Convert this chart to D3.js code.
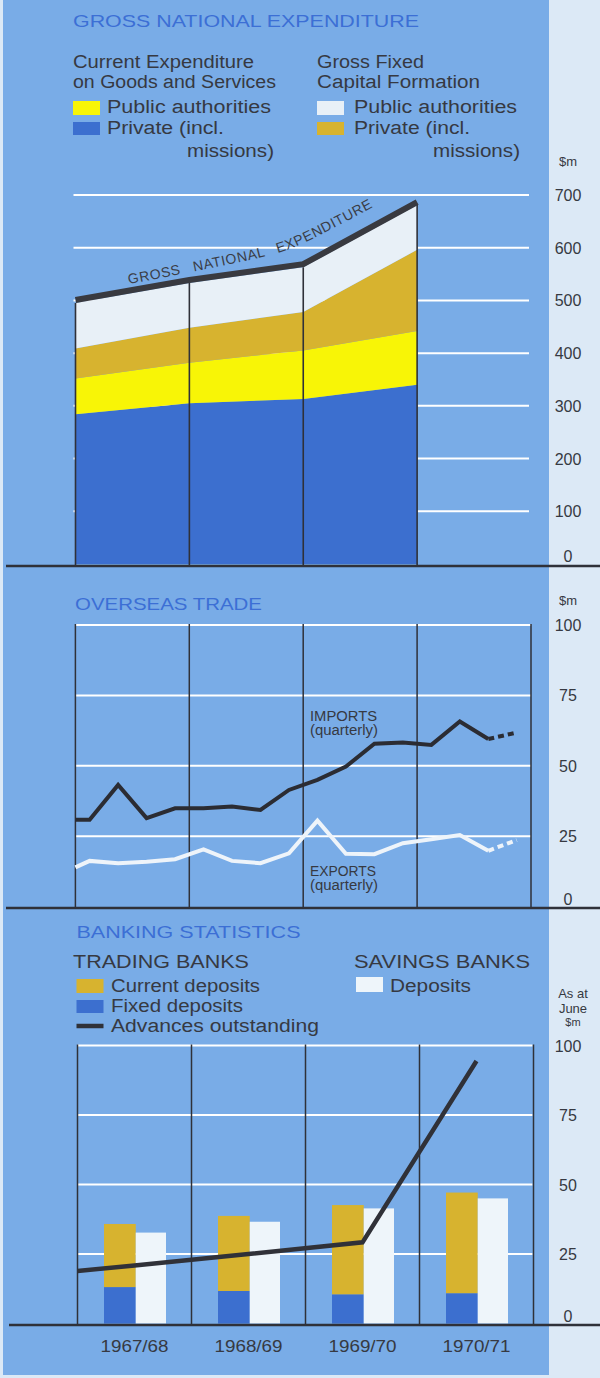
<!DOCTYPE html>
<html><head><meta charset="utf-8">
<script src="https://cdn.jsdelivr.net/npm/d3@7"></script>
<style>
body{margin:0;background:#dce9f6;}
svg text{font-family:"Liberation Sans",Arial,Helvetica,sans-serif;}
</style>
</head><body>
<svg id="c" width="600" height="1378"></svg>
<script>
// ---------------- DATA ----------------
// Gross National Expenditure ($m), plotted at year boundaries
const gnePoints = ["1966/67", "1967/68", "1968/69", "1969/70"];
const gnePrivateCurrent = [284, 305, 313, 340];
const gnePublicCurrent  = [68, 77, 92, 102];
const gnePrivateCapital = [57, 66, 73, 154];
const gnePublicCapital  = [86, 85, 85, 85];
const gneTicks = [0, 100, 200, 300, 400, 500, 600, 700];

// Overseas trade ($m, quarterly)
const quarters = ["Sep 67","Dec 67","Mar 68","Jun 68","Sep 68","Dec 68","Mar 69","Jun 69",
                  "Sep 69","Dec 69","Mar 70","Jun 70","Sep 70","Dec 70","Mar 71","Jun 71"];
const importsStart = 30.8;
const imports = [30.8, 43.2, 31.4, 34.9, 34.9, 35.5, 34.3, 41.4, 45.0, 49.7, 57.8, 58.3, 57.4, 65.7, 59.5, 61.8];
const exportsStart = 13.9;
const exports = [16.2, 15.4, 15.9, 16.8, 20.3, 16.2, 15.4, 18.9, 30.5, 18.7, 18.6, 22.5, 23.9, 25.4, 19.8, 23.6];
const tradeTicks = [0, 25, 50, 75, 100];

// Banking statistics ($m, as at June)
const years = ["1967/68", "1968/69", "1969/70", "1970/71"];
const currentDeposits = [22.7, 27.0, 32.1, 36.2];
const fixedDeposits   = [13.1, 11.7, 10.5, 10.9];
const savingsDeposits = [32.7, 36.6, 41.4, 45.0];
const advancesStart = 18.9;
const advances = [20.9, 25.0, 29.2, 94.4];
const bankTicks = [0, 25, 50, 75, 100];

// ---------------- STYLE ----------------
const C = {
  panel: "#79ace7", dark: "#2f3139", text: "#363942", title: "#3c6fd5",
  grid: "#ffffff", blue: "#3c6fcf", yellow: "#f8f506", gold: "#d7b32f",
  white: "#e8f0f7", barWhite: "#eef5fa"
};
const svg = d3.select("#c");
svg.append("rect").attr("x", 3).attr("y", 0).attr("width", 546).attr("height", 1375).attr("fill", C.panel);

function txt(x, y, s, size, color, len, anchor) {
  const t = svg.append("text").attr("x", x).attr("y", y).text(s)
    .attr("font-size", size).attr("fill", color);
  if (len) t.attr("textLength", len).attr("lengthAdjust", "spacingAndGlyphs");
  if (anchor) t.attr("text-anchor", anchor);
  return t;
}
function swatch(x, y, w, h, fill) {
  svg.append("rect").attr("x", x).attr("y", y).attr("width", w).attr("height", h).attr("fill", fill);
}
function hline(x1, x2, y, color, w) {
  svg.append("line").attr("x1", x1).attr("x2", x2).attr("y1", y).attr("y2", y)
    .attr("stroke", color).attr("stroke-width", w);
}
function vline(x, y1, y2, color, w) {
  svg.append("line").attr("x1", x).attr("x2", x).attr("y1", y1).attr("y2", y2)
    .attr("stroke", color).attr("stroke-width", w);
}

// ---------------- SECTION 1: GNE ----------------
txt(73, 27, "GROSS NATIONAL EXPENDITURE", 17, C.title, 346);
txt(73, 68, "Current Expenditure", 18, C.text, 181);
txt(73, 88, "on Goods and Services", 18, C.text, 203);
swatch(73, 101, 27, 14, C.yellow);
txt(107, 113, "Public authorities", 18, C.text, 164);
swatch(73, 122, 27, 13, C.blue);
txt(107, 134, "Private (incl.", 18, C.text, 117);
txt(274, 157, "missions)", 18, C.text, 87, "end");

txt(317, 68, "Gross Fixed", 18, C.text, 107);
txt(317, 88, "Capital Formation", 18, C.text, 163);
swatch(317, 101, 27, 14, C.white);
txt(354, 113, "Public authorities", 18, C.text, 163);
swatch(317, 122, 27, 13, C.gold);
txt(354, 134, "Private (incl.", 18, C.text, 116);
txt(520, 157, "missions)", 18, C.text, 87, "end");
txt(568, 166, "$m", 13, C.text, null, "middle");

const xT = d3.scaleLinear().domain([0, 4]).range([75.5, 531]);
const yT = d3.scaleLinear().domain([0, 700]).range([564, 195]);

gneTicks.filter(t => t > 0).forEach(t => hline(xT(0) - 2, xT(4) - 2, yT(t), C.grid, 2));

const gneRows = gnePoints.map((p, i) => ({
  i, privateCurrent: gnePrivateCurrent[i], publicCurrent: gnePublicCurrent[i],
  privateCapital: gnePrivateCapital[i], publicCapital: gnePublicCapital[i]
}));
const gneKeys = ["privateCurrent", "publicCurrent", "privateCapital", "publicCapital"];
const gneColors = { privateCurrent: C.blue, publicCurrent: C.yellow, privateCapital: C.gold, publicCapital: C.white };
const stack = d3.stack().keys(gneKeys)(gneRows);
const area = d3.area().x(d => xT(d.data.i)).y0(d => yT(d[0])).y1(d => yT(d[1]));
svg.append("g").selectAll("path").data(stack).join("path")
  .attr("d", area).attr("fill", d => gneColors[d.key]);

const gneTotals = gneRows.map(r => gneKeys.reduce((s, k) => s + r[k], 0));
gneRows.forEach((r, i) => vline(xT(i), yT(gneTotals[i]), yT(0) + 2, C.dark, 1.6));
svg.append("path")
  .attr("d", d3.line().x((d, i) => xT(i)).y(d => yT(d) - 3)(gneTotals))
  .attr("fill", "none").attr("stroke", "#393a40").attr("stroke-width", 6)
  .attr("stroke-linejoin", "miter");

// label along the GNE line
const lblPath = d3.line().curve(d3.curveCatmullRom)([
  [xT(0.47), yT(gneTotals[0]) - 19],
  [xT(1.64), yT(gneTotals[1] + (gneTotals[2] - gneTotals[1]) * 0.64) - 16],
  [xT(1.92), yT(gneTotals[2]) - 20],
  [xT(2.85), yT(gneTotals[2] + (gneTotals[3] - gneTotals[2]) * 0.85) - 22]
]);
svg.append("path").attr("id", "gnelbl").attr("d", lblPath).attr("fill", "none");
svg.append("text").attr("font-size", 14).attr("fill", "#3a3d46")
  .attr("letter-spacing", 0.6).attr("word-spacing", 8)
  .append("textPath").attr("href", "#gnelbl").text("GROSS NATIONAL EXPENDITURE");

hline(6, 600, 566, C.dark, 2.5);
gneTicks.forEach(t => txt(568, t === 0 ? yT(t) - 2 : yT(t) + 6, String(t), 16, C.text, null, "middle"));

// ---------------- SECTION 2: OVERSEAS TRADE ----------------
txt(75, 610, "OVERSEAS TRADE", 17, C.title, 187);
txt(568, 605, "$m", 13, C.text, null, "middle");

const xM = d3.scaleLinear().domain([0, 4]).range([75.4, 531]);
const yM = d3.scaleLinear().domain([0, 100]).range([906.5, 625]);
tradeTicks.filter(t => t > 0).forEach(t => hline(xM(0), xM(4), yM(t), C.grid, 2));
[0, 1, 2, 3, 4].forEach(i => vline(xM(i), yM(100) - 1, 908, C.dark, 1.5));

const qx = i => xM((i + 0.5) / 4);
function tradeLine(start, vals, color) {
  const solid = [[xM(0), yM(start)]].concat(vals.slice(0, 15).map((v, i) => [qx(i), yM(v)]));
  svg.append("path").attr("d", d3.line()(solid)).attr("fill", "none")
    .attr("stroke", color).attr("stroke-width", 4).attr("stroke-linejoin", "miter");
  const dashed = [[qx(14), yM(vals[14])], [qx(15), yM(vals[15])]];
  svg.append("path").attr("d", d3.line()(dashed)).attr("fill", "none")
    .attr("stroke", color).attr("stroke-width", 4).attr("stroke-dasharray", "6,4");
}
tradeLine(importsStart, imports, "#2b2c33");
tradeLine(exportsStart, exports, "#eef4fa");

txt(310, 721, "IMPORTS", 14, C.text, 67);
txt(310, 735, "(quarterly)", 14, C.text, 68);
txt(310, 876, "EXPORTS", 14, C.text, 66);
txt(310, 890, "(quarterly)", 14, C.text, 68);

hline(6, 600, 908, C.dark, 2.5);
tradeTicks.forEach(t => txt(568, t === 0 ? yM(t) - 2 : yM(t) + 6, String(t), 16, C.text, null, "middle"));

// ---------------- SECTION 3: BANKING ----------------
txt(76.5, 938, "BANKING STATISTICS", 17, C.title, 224);
txt(73, 968, "TRADING BANKS", 18, C.text, 176);
txt(354, 968, "SAVINGS BANKS", 18, C.text, 176);
swatch(76.5, 979, 27, 14, C.gold);
txt(111, 992, "Current deposits", 18, C.text, 149);
swatch(76.5, 1000, 27, 13, C.blue);
txt(111, 1012, "Fixed deposits", 18, C.text, 132);
hline(76.5, 103.5, 1026, C.dark, 4.5);
txt(111, 1032, "Advances outstanding", 18, C.text, 208);
swatch(356, 977, 27, 15, C.barWhite);
txt(390, 992, "Deposits", 18, C.text, 81);
txt(573, 998, "As at", 13, C.text, null, "middle");
txt(573, 1013, "June", 13, C.text, null, "middle");
txt(573, 1026, "$m", 11, C.text, null, "middle");

const xB = d3.scaleLinear().domain([0, 4]).range([77.5, 533.5]);
const yB = d3.scaleLinear().domain([0, 100]).range([1323.5, 1045.5]);
bankTicks.filter(t => t > 0).forEach(t => hline(xB(0), xB(4) - 1, yB(t), C.grid, 2));
[0, 1, 2, 3, 4].forEach(i => vline(xB(i), yB(100) - 1, 1325, C.dark, 1.5));

const inner = d3.scaleBand().domain(["trading", "savings"]).range([26.5, 90]).paddingInner(0);
years.forEach((y, i) => {
  const x0 = xB(i);
  swatch(x0 + inner("trading"), yB(fixedDeposits[i]), inner.bandwidth(), yB(0) - yB(fixedDeposits[i]), C.blue);
  swatch(x0 + inner("trading"), yB(fixedDeposits[i] + currentDeposits[i]), inner.bandwidth(),
         yB(fixedDeposits[i]) - yB(fixedDeposits[i] + currentDeposits[i]), C.gold);
  swatch(x0 + inner("savings"), yB(savingsDeposits[i]), inner.bandwidth() - 1.5, yB(0) - yB(savingsDeposits[i]), C.barWhite);
});

const advPts = [[xB(0), yB(advancesStart)]].concat(advances.map((v, i) => [xB(i + 0.5), yB(v)]));
svg.append("path").attr("d", d3.line()(advPts)).attr("fill", "none")
  .attr("stroke", "#303138").attr("stroke-width", 4.5).attr("stroke-linejoin", "miter");

hline(9, 600, 1325, C.dark, 2.5);
bankTicks.forEach(t => txt(568, t === 0 ? yB(t) - 2 : yB(t) + 6, String(t), 16, C.text, null, "middle"));
years.forEach((y, i) => txt(xB(i + 0.5), 1352, y, 17, C.text, 68, "middle"));
</script>
</body></html>
